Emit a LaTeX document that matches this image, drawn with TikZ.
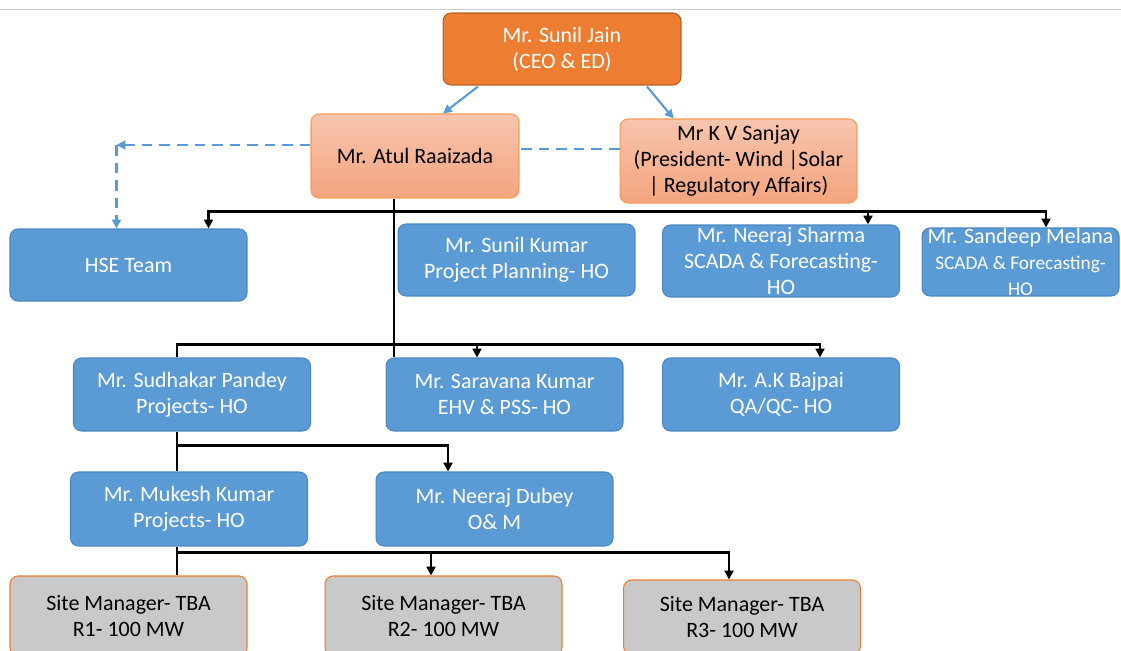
\documentclass[tikz,border=0pt]{standalone}
\usepackage{fontspec}
\setmainfont{Carlito}
\usepackage{tikz}
\usetikzlibrary{arrows.meta, calc}

\begin{document}
\begin{tikzpicture}[x=0.02cm, y=-0.02cm, >={Triangle[width=5pt,length=5pt]},
    every node/.style={align=center, font=\fontsize{12.5}{14.7}\selectfont, inner sep=0pt, rounded corners=0.16cm, line width=0.6pt},
    ceobox/.style={fill=ceofill, draw=ceoline, text=white, minimum width=4.76cm, minimum height=1.44cm},
    headbox/.style={top color=headtop, bottom color=headbot, draw=headline, text=black, minimum height=1.68cm},
    teambox/.style={fill=teamfill, draw=teamline, text=white, minimum width=4.74cm, minimum height=1.44cm},
    sitebox/.style={fill=sitefill, draw=siteline, text=black, minimum width=4.74cm, minimum height=1.6cm},
    tree/.style={line width=1.4pt, black},
    link/.style={line width=1.2pt, linkblue}]
      \definecolor{ceofill}{HTML}{ED7D31} \definecolor{ceoline}{HTML}{B85F22}
      \definecolor{headtop}{HTML}{F7C5AE} \definecolor{headbot}{HTML}{F4A47E} \definecolor{headline}{HTML}{F59B55}
      \definecolor{teamfill}{HTML}{5B9BD5} \definecolor{teamline}{HTML}{4A86BE}
      \definecolor{sitefill}{HTML}{C9C9C9} \definecolor{siteline}{HTML}{ED7D31}
      \definecolor{linkblue}{HTML}{5B9BD5}
      \clip (0,0) rectangle (1121,651);
      \draw[gray!40, line width=0.5pt] (0,9) -- (1121,9);

      \node[ceobox] (ceo) at (562,49) {Mr. Sunil Jain\\(CEO \& ED)};
      \node[headbox, minimum width=4.16cm] (atul) at (415,156) {Mr. Atul Raaizada};
      \node[headbox, minimum width=4.74cm] (sanjay) at (738.5,161) {Mr K V Sanjay\\(President- Wind |Solar\\| Regulatory Affairs)};

      \node[teambox] (hse) at (128.5,265) {HSE Team};
      \node[teambox] (sunil) at (516.5,260) {Mr. Sunil Kumar\\Project Planning- HO};
      \node[teambox] (neeraj) at (781,261) {Mr. Neeraj Sharma\\SCADA \& Forecasting-\\HO};
      \node[teambox, minimum width=3.94cm, minimum height=1.36cm] (sandeep) at (1020.5,262)
        {Mr. Sandeep Melana\\{\fontsize{11}{12.6}\selectfont SCADA \& Forecasting-}\\{\fontsize{11}{12.6}\selectfont HO}};

      \node[teambox, minimum height=1.46cm] (sudhakar) at (192,394.5) {Mr. Sudhakar Pandey\\Projects- HO};
      \node[teambox, minimum height=1.46cm] (saravana) at (504.5,394.5) {Mr. Saravana Kumar\\EHV \& PSS- HO};
      \node[teambox, minimum height=1.46cm] (bajpai) at (781,394.5) {Mr. A.K Bajpai\\QA/QC- HO};

      \node[teambox, minimum height=1.48cm] (mukesh) at (189,509) {Mr. Mukesh Kumar\\Projects- HO};
      \node[teambox, minimum height=1.48cm] (dubey) at (494.5,509) {Mr. Neeraj Dubey\\O\& M};

      \node[sitebox] (site1) at (128.5,616) {Site Manager- TBA\\R1- 100 MW};
      \node[sitebox] (site2) at (443.5,616) {Site Manager- TBA\\R2- 100 MW};
      \node[sitebox, minimum height=1.48cm] (site3) at (742,617) {Site Manager- TBA\\R3- 100 MW};

      \draw[link, ->] ($(ceo.south)+(-84,1)$) -- ($(atul.north)+(28,0)$);
      \draw[link, ->] ($(ceo.south)+(85,1)$) -- ($(sanjay.north)+(-65,0)$);
      \draw[link, dash pattern=on 6pt off 4pt] ($(sanjay.west)+(0,-12)$) coordinate (d1) -- (d1 -| atul.east);
      \coordinate (d2) at ($(atul.west)+(-194,-11)$);
      \draw[link, dash pattern=on 6pt off 4pt, ->] (atul.west |- d2) -- (d2);
      \draw[link, dash pattern=on 6pt off 4pt, ->] (d2) -- (d2 |- hse.north);

      \coordinate (t1) at ($(atul.south)+(-21,0)$);
      \coordinate (t2) at (t1 |- saravana.north);
      \coordinate (b1) at ($(t1)+(0,13)$);
      \draw[tree] (t1) -- (t2);
      \draw[tree, ->] (b1) -| ($(hse.north)+(80,0)$);
      \draw[tree, ->] (b1) -| ($(neeraj.north)+(87,0)$);
      \draw[tree, ->] (b1) -| ($(sandeep.north)+(25.5,0)$);

      \coordinate (b2) at ($(t2)+(0,-13)$);
      \draw[tree] (b2) -| ($(sudhakar.north)+(-15,0)$);
      \draw[tree, ->] (b2) -| ($(saravana.north)+(-27.5,0)$);
      \draw[tree, ->] (b2) -| ($(bajpai.north)+(39,0)$);

      \coordinate (s1) at ($(sudhakar.south)+(-15,0)$);
      \coordinate (b3) at ($(s1)+(0,14)$);
      \draw[tree] (s1) -- (s1 |- mukesh.north);
      \draw[tree, ->] (b3) -| ($(dubey.north)+(-46.5,0)$);

      \coordinate (m1) at ($(mukesh.south)+(-12,0)$);
      \coordinate (b4) at ($(m1)+(0,6)$);
      \draw[tree] (m1) -- (m1 |- site1.north);
      \draw[tree, ->] (b4) -| ($(site2.north)+(-12.5,0)$);
      \draw[tree, ->] (b4) -| ($(site3.north)+(-13,0)$);
    \end{tikzpicture}
\end{document}
